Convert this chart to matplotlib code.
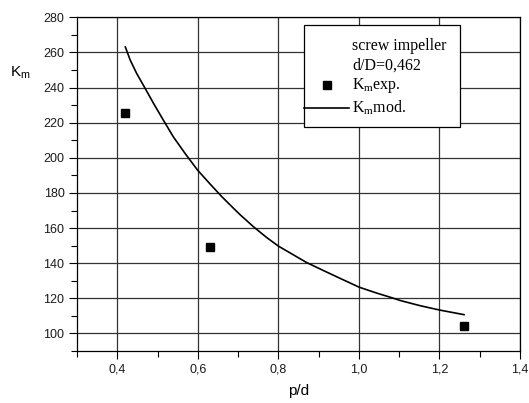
import numpy as np
import matplotlib
matplotlib.use('Agg')
import matplotlib.pyplot as plt
from matplotlib.lines import Line2D
from matplotlib.patches import Rectangle
from matplotlib.ticker import MultipleLocator, FuncFormatter

# experimental points
p_exp = [0.42, 0.63, 1.26]
km_exp = [225.7, 149.0, 104.0]

# model curve
p_mod = [0.42, 0.432, 0.448, 0.469, 0.490, 0.514, 0.539, 0.568, 0.599,
         0.630, 0.659, 0.688, 0.705, 0.738, 0.771, 0.801, 0.837, 0.870,
         0.912, 0.953, 1.001, 1.044, 1.085, 1.102, 1.152, 1.201, 1.261]
km_mod = [263.1, 255.7, 248.1, 239.6, 231.0, 221.6, 212.0, 202.6, 193.1,
          185.2, 178.0, 171.4, 167.6, 160.8, 154.6, 149.6, 144.8, 140.4,
          135.8, 131.4, 126.3, 123.0, 120.1, 118.8, 115.8, 113.3, 110.7]

legend_lines = ["screw impeller", "d/D=0,462"]
label_exp = r'K$_\mathregular{m}$exp.'
label_mod = r'K$_\mathregular{m}$mod.'

plt.rcParams['font.family'] = ['Liberation Sans', 'DejaVu Sans']
plt.rcParams['mathtext.fontset'] = 'custom'

fig = plt.figure(figsize=(5.29, 4.03), dpi=100)
ax = fig.add_subplot(111)
fig.subplots_adjust(left=0.1456, right=0.983, bottom=0.129, top=0.957)

ax.plot(p_exp, km_exp, 's', color='black', markersize=6, zorder=3)
ax.plot(p_mod, km_mod, '-', color='black', linewidth=1.2, zorder=3,
        solid_joinstyle='round')

ax.set_xlim(0.3, 1.4)
ax.set_ylim(90, 280)
ax.xaxis.set_major_locator(MultipleLocator(0.2))
ax.xaxis.set_minor_locator(MultipleLocator(0.1))
ax.yaxis.set_major_locator(MultipleLocator(20))
ax.yaxis.set_minor_locator(MultipleLocator(10))
ax.xaxis.set_major_formatter(FuncFormatter(lambda v, pos: ('%.1f' % v).replace('.', ',')))
ax.tick_params(which='major', direction='out', length=6, width=0.8, labelsize=9, pad=3)
ax.tick_params(which='minor', direction='out', length=4, width=0.8)
ax.tick_params(labelcolor='#1a1a1a')
ax.grid(True, which='major', color='#333333', linewidth=0.9)
ax.set_axisbelow(True)
for s in ax.spines.values():
    s.set_linewidth(0.9)

ax.set_xlabel('p/d', fontsize=11, labelpad=6)
ax.text(-0.151, 0.835, r'K$_\mathregular{m}$', transform=ax.transAxes, fontsize=11,
        ha='left', va='center')

# legend box drawn by hand (Origin style)
ax.add_patch(Rectangle((0.512, 0.671), 0.353, 0.305, transform=ax.transAxes,
                       facecolor='white', edgecolor='black', linewidth=0.9, zorder=4))
serif = {'family': 'Liberation Serif', 'size': 11.5}
ys = [0.913, 0.856, 0.796, 0.728]
for y, txt in zip(ys, legend_lines + [label_exp, label_mod]):
    ax.text(0.621, y, txt, transform=ax.transAxes, fontdict=serif, ha='left',
            va='center', zorder=5)
ax.add_line(Line2D([0.564], [ys[2]], transform=ax.transAxes, marker='s',
                   color='black', markersize=6, linestyle='none', zorder=5))
ax.add_line(Line2D([0.512, 0.614], [ys[3], ys[3]], transform=ax.transAxes,
                   color='black', linewidth=1.2, zorder=5))

fig.savefig('out.png', dpi=100)
